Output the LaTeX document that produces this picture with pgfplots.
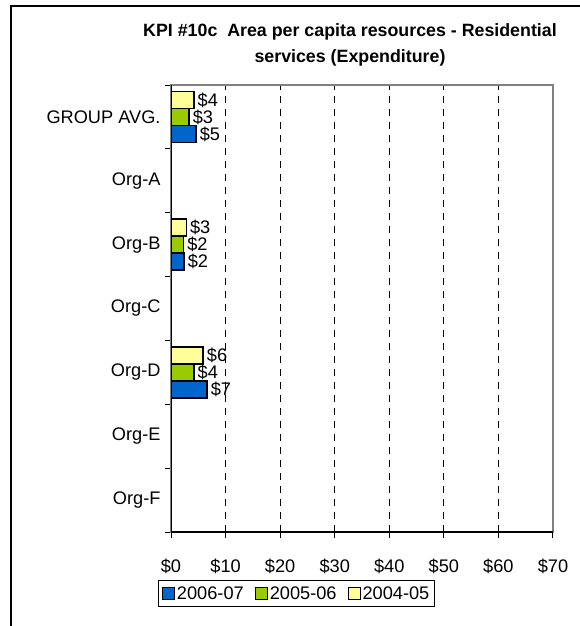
\documentclass[border=0pt]{standalone}
\usepackage{fontspec}
\setmainfont{Liberation Sans}
\usepackage{pgfplots}
\pgfplotsset{compat=1.18}
\definecolor{bluebar}{HTML}{0066CC}
\definecolor{greenbar}{HTML}{99CC00}
\definecolor{yellowbar}{HTML}{FFFF99}
\begin{document}
\begin{tikzpicture}
\useasboundingbox (0pt,0pt) rectangle (580pt,-626pt);
% outer frame (left and top only visible)
\draw[line width=1.5pt] (11pt,-626pt) -- (11pt,-6pt) -- (580pt,-6pt);
\node[font=\fontsize{17.8}{26}\selectfont\bfseries, align=center] at (350pt,-45pt)
  {KPI \#10c\ \ Area per capita resources - Residential\\services (Expenditure)};
\begin{axis}[
  at={(171pt,-532pt)}, anchor=south west,
  width=382pt, height=447pt, scale only axis,
  /pgf/number format/assume math mode=true,
  font=\fontsize{18.2}{21}\selectfont,
  xbar, bar width=17pt,
  xmin=0, xmax=70, ymin=-0.5, ymax=6.5,
  xtick={0,10,...,70},
  xticklabel={\$\pgfmathprintnumber{\tick}},
  ytick={-0.5,0.5,...,6.5},
  yticklabels={},
  extra y ticks={0,1,2,3,4,5,6},
  extra y tick labels={Org-F,Org-E,Org-D,Org-C,Org-B,Org-A,GROUP AVG.},
  extra y tick style={major tick length=0pt},
  xtick pos=bottom, ytick pos=left,
  tick align=outside, major tick length=6pt,
  tick style={black, line width=1pt},
  xmajorgrids, grid style={black, line width=1pt, dash pattern=on 7pt off 6pt},
  axis line style={gray, line width=2pt},
  xticklabel style={yshift=-17pt},
  yticklabel style={xshift=-7pt},
  nodes near coords={\$\pgfmathprintnumber[fixed,precision=0]{\pgfplotspointmeta}},
  nodes near coords style={font=\fontsize{18.2}{21}\selectfont, inner sep=3pt, black},
  legend columns=3,
  legend style={at={(0.329,-0.138)}, anchor=center, draw=black, line width=1pt,
    font=\fontsize{18.2}{21}\selectfont, inner xsep=3pt, inner ysep=4pt,
    /tikz/every even column/.append style={column sep=9pt}},
  legend image code/.code={\draw[#1, line width=1pt] (0pt,-6pt) rectangle (12pt,6pt);},
]
\addplot[fill=bluebar, draw=black, line width=1.5pt, bar shift=-17pt]
  coordinates {(4.6,6) (2.4,4) (6.6,2)};
\addlegendentry{2006-07}
\addplot[fill=greenbar, draw=black, line width=1.5pt, bar shift=0pt]
  coordinates {(3.3,6) (2.3,4) (4.2,2)};
\addlegendentry{2005-06}
\addplot[fill=yellowbar, draw=black, line width=1.5pt, bar shift=17pt]
  coordinates {(4.2,6) (2.8,4) (5.9,2)};
\addlegendentry{2004-05}
\draw[black, line width=1.5pt] (rel axis cs:0,1) -- (rel axis cs:0,0) -- (rel axis cs:1,0);
\end{axis}
\end{tikzpicture}
\end{document}
